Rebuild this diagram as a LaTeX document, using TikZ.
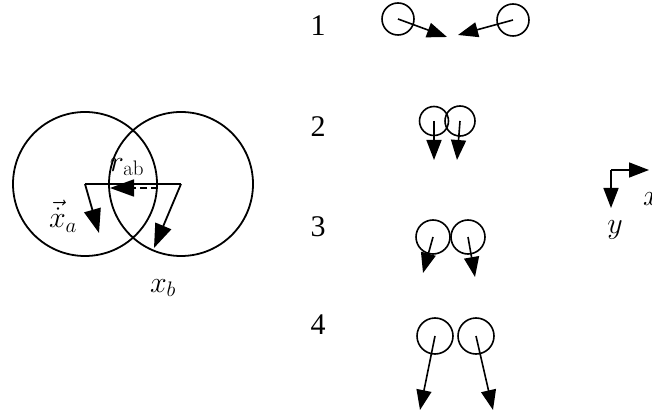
\RequirePackage{fix-cm}
\documentclass[tikz,border=0pt]{standalone}
\usepackage[no-math]{fontspec}
\setmainfont{Liberation Serif}
\usetikzlibrary{arrows.meta}

\begin{document}
\begin{tikzpicture}[
  x=1pt, y=-1pt,
  >={Triangle[length=20pt,width=15pt]},
  big/.style={draw, circle, line width=1.8pt, minimum size=144pt, inner sep=0pt},
  small/.style={draw, circle, line width=1.6pt, minimum size=32pt, inner sep=0pt},
  vel/.style={->, line width=1.6pt},
  bigvel/.style={-{Triangle[length=24pt,width=17pt]}, line width=1.8pt},
  lbl/.style={font=\fontsize{30}{32}\selectfont, inner sep=0pt}
]
\useasboundingbox (0,0) rectangle (652,419);

% overlapping pair
\node[big] (ca) at (85,184) {};
\node[big] (cb) at (181,184) {};
\coordinate (va) at (99,233);
\coordinate (vb) at (154,248);
\coordinate (rs) at (158,188);
\coordinate (re) at (110,188);
\draw[line width=1.8pt] (ca.center) -- (cb.center);
\draw[bigvel] (ca.center) -- (va);
\draw[bigvel] (cb.center) -- (vb);
\draw[bigvel, dash pattern=on 7pt off 4pt] (rs) -- (re);
\node[lbl] (rab) at (127,167) {$r_{\mathrm{ab}}$};
\node[lbl] (xa) at (63,216) {$\vec{\dot{x}}_a$};
\node[lbl] (xb) at (163,288) {$x_b$};

% steps
\node[lbl] (n1) at (318,26) {1};
\node[lbl] (n2) at (318,127) {2};
\node[lbl] (n3) at (318,227) {3};
\node[lbl] (n4) at (318,325) {4};

\node[small] (a1) at (398,19) {};
\node[small] (b1) at (513,20) {};
\coordinate (ta1) at (447,37);
\coordinate (tb1) at (458,35);
\draw[vel] (a1.center) -- (ta1);
\draw[vel] (b1.center) -- (tb1);

\node[small, minimum size=29pt] (a2) at (434,121) {};
\node[small, minimum size=30pt] (b2) at (460,121) {};
\coordinate (ta2) at (434,160);
\coordinate (tb2) at (457,160);
\draw[vel] (a2.center) -- (ta2);
\draw[vel] (b2.center) -- (tb2);

\node[small, minimum size=34pt] (a3) at (433,237) {};
\node[small, minimum size=34pt] (b3) at (468,237) {};
\coordinate (ta3) at (423,273);
\coordinate (tb3) at (475,277);
\draw[vel] (a3.center) -- (ta3);
\draw[vel] (b3.center) -- (tb3);

\node[small, minimum size=36pt] (a4) at (435,336) {};
\node[small, minimum size=36pt] (b4) at (476,336) {};
\coordinate (ta4) at (420,410);
\coordinate (tb4) at (493,410);
\draw[vel] (a4.center) -- (ta4);
\draw[vel] (b4.center) -- (tb4);

% axes
\coordinate (o) at (611,170);
\coordinate (ox) at (649,170);
\coordinate (oy) at (611,208);
\draw[vel] (o) -- (ox);
\draw[vel] (o) -- (oy);
\node[lbl, anchor=west] (lx) at (643,199) {$x$};
\node[lbl] (ly) at (615,230) {$y$};
\end{tikzpicture}
\end{document}
